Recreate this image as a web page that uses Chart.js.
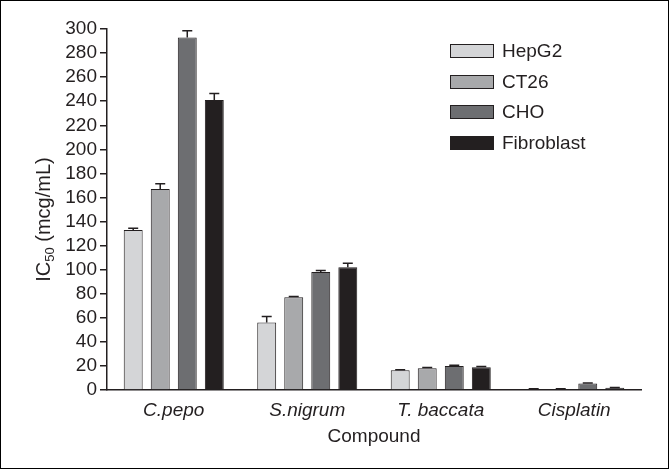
<!DOCTYPE html>
<html>
<head>
<meta charset="utf-8">
<script src="https://cdn.jsdelivr.net/npm/chart.js@4.4.0/dist/chart.umd.min.js"></script>
<style>
  body { margin: 0; background: #fff; }
  #wrap { position: relative; width: 669px; height: 469px; }
  #frame { position: absolute; left: 0; top: 0; width: 667px; height: 467px; border: 1px solid #000; pointer-events: none; }
  #legend { position: absolute; left: 450px; top: 36px; font: 19px "Liberation Sans", Arial, sans-serif; color: #231f20; }
  .item { height: 30.5px; display: flex; align-items: center; }
  .box { width: 42px; height: 12px; border: 1px solid #231f20; margin-right: 8px; }
</style>
</head>
<body>
<div id="wrap">
  <canvas id="mycanvas" width="669" height="469"></canvas>
  <div id="legend"></div>
  <div id="frame"></div>
</div>
<script>
var categories = ["C.pepo", "S.nigrum", "T. baccata", "Cisplatin"];
var seriesNames = ["HepG2", "CT26", "CHO", "Fibroblast"];
var hepg2 = [133, 56, 16.5, 0.8];
var hepg2Err = [1.5, 5, 0.3, 0.2];
var ct26 = [167, 77, 18, 0.8];
var ct26Err = [4.3, 0.6, 0.6, 0.2];
var cho = [293, 98, 20, 5.5];
var choErr = [5.5, 1.4, 0.5, 0.3];
var fibroblast = [241, 102, 19, 1.8];
var fibroblastErr = [5.5, 3.3, 0.5, 0.2];
var yMin = 0, yMax = 300, yStep = 20;

var colors = ["#d4d5d7", "#a8a9ab", "#6d6e71", "#231f20"];
var values = [hepg2, ct26, cho, fibroblast];
var errors = [hepg2Err, ct26Err, choErr, fibroblastErr];
var fontFamily = '"Liberation Sans", Arial, sans-serif';

Chart.defaults.font.family = fontFamily;
Chart.defaults.color = "#231f20";

var datasets = [];
for (var i = 0; i < seriesNames.length; i++) {
  datasets.push({
    label: seriesNames[i],
    data: values[i],
    errors: errors[i],
    backgroundColor: colors[i],
    borderColor: "#231f20",
    borderWidth: 1,
    barPercentage: 0.7,
    categoryPercentage: 0.81
  });
}

// upper error bars with caps
var errorBars = {
  id: "errorBars",
  afterDatasetsDraw: function(chart) {
    var ctx = chart.ctx;
    var y = chart.scales.y;
    ctx.save();
    ctx.strokeStyle = "#231f20";
    ctx.lineWidth = 1.5;
    chart.data.datasets.forEach(function(ds, di) {
      chart.getDatasetMeta(di).data.forEach(function(bar, j) {
        var top = y.getPixelForValue(ds.data[j] + ds.errors[j]);
        ctx.beginPath();
        ctx.moveTo(bar.x, bar.y);
        ctx.lineTo(bar.x, top);
        ctx.moveTo(bar.x - 5, top);
        ctx.lineTo(bar.x + 5, top);
        ctx.stroke();
      });
    });
    ctx.restore();
  }
};

// y title with subscript
var yTitle = {
  id: "yTitle",
  afterDraw: function(chart) {
    var ctx = chart.ctx;
    var area = chart.chartArea;
    var big = "20px " + fontFamily, small = "13px " + fontFamily;
    ctx.save();
    ctx.font = big;
    var w1 = ctx.measureText("IC").width;
    var w3 = ctx.measureText(" (mcg/mL)").width;
    ctx.font = small;
    var w2 = ctx.measureText("50").width;
    var total = w1 + w2 + w3;
    ctx.translate(44, (area.top + area.bottom) / 2 + 10);
    ctx.rotate(-Math.PI / 2);
    ctx.fillStyle = "#231f20";
    ctx.textBaseline = "middle";
    var x = -total / 2;
    ctx.font = big;
    ctx.fillText("IC", x, 0);
    ctx.font = small;
    ctx.fillText("50", x + w1, 6);
    ctx.font = big;
    ctx.fillText(" (mcg/mL)", x + w1 + w2, 0);
    ctx.restore();
  }
};

var ctx = document.getElementById("mycanvas");
var chart = new Chart(ctx, {
  type: "bar",
  data: { labels: categories, datasets: datasets },
  plugins: [errorBars, yTitle],
  options: {
    responsive: false,
    animation: false,
    layout: { padding: { left: 0, top: 29, right: 28, bottom: 0 } },
    plugins: { legend: { display: false }, tooltip: { enabled: false } },
    scales: {
      x: {
        grid: { display: false, drawTicks: false },
        border: { display: true, color: "#231f20", width: 1.5 },
        ticks: { font: { size: 19, style: "italic" }, padding: 9, color: "#231f20" },
        title: { display: true, text: "Compound", font: { size: 19 }, padding: { top: 0, bottom: 21 }, color: "#231f20" },
        afterFit: function(s) { s.height = 79; }
      },
      y: {
        min: yMin,
        max: yMax,
        grid: { drawOnChartArea: false, drawTicks: true, tickLength: 7, color: "#231f20", lineWidth: 1.5 },
        border: { display: true, color: "#231f20", width: 1.5 },
        ticks: { stepSize: yStep, autoSkip: false, font: { size: 19 }, padding: 3, color: "#231f20" },
        afterFit: function(s) { s.width = 107; }
      }
    }
  }
});

var legend = document.getElementById("legend");
chart.data.datasets.forEach(function(ds) {
  var row = document.createElement("div");
  row.className = "item";
  var box = document.createElement("span");
  box.className = "box";
  box.style.background = ds.backgroundColor;
  var label = document.createElement("span");
  label.textContent = ds.label;
  row.appendChild(box);
  row.appendChild(label);
  legend.appendChild(row);
});
</script>
</body>
</html>
